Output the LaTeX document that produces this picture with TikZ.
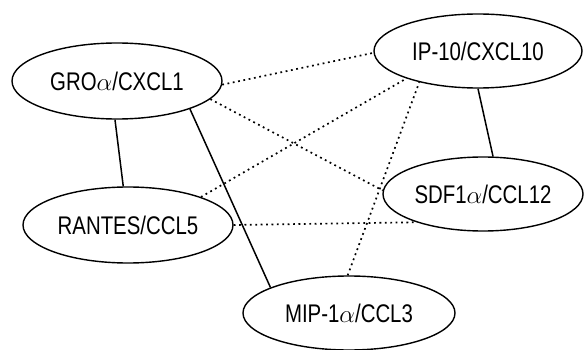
\documentclass[tikz,border=0pt]{standalone}
\usepackage{fontspec}
\setmainfont[FakeStretch=0.8]{Liberation Sans}
\usetikzlibrary{shapes.geometric}
\begin{document}
\begin{tikzpicture}[x=1pt,y=-1pt,
  ell/.style={ellipse,draw,line width=1.4pt,inner sep=0pt,minimum width=208pt,minimum height=74pt,font=\fontsize{25.5}{28}\selectfont},
  solidlink/.style={line width=1.5pt},
  dotlink/.style={line width=1.7pt,dash pattern=on 1.8pt off 3.6pt}]
\useasboundingbox (0,0) rectangle (584,350);
\node[ell,minimum width=210pt,minimum height=76pt] (gro) at (117,81) {GRO$\alpha$/CXCL1};
\node[ell] (ip) at (478,51) {IP-10/CXCL10};
\node[ell,minimum width=200pt] (sdf) at (483,194) {SDF1$\alpha$/CCL12};
\node[ell,minimum width=210pt,minimum height=76pt] (ran) at (128,225) {RANTES/CCL5};
\node[ell,minimum width=212pt] (mip) at (349,313) {MIP-1$\alpha$/CCL3};
\draw[solidlink] (gro.-93) -- (ran.97);
\draw[solidlink] (gro.-21) -- (mip.162);
\draw[solidlink] (ip.-90) -- (sdf.75);
\draw[dotlink] (gro.-2) -- (ip.181);
\draw[dotlink] (gro.-11.5) -- (sdf.178);
\draw[dotlink] (ran.21) -- (ip.201);
\draw[dotlink] (ran.0) -- (sdf.203);
\draw[dotlink] (mip.92) -- (ip.208);
\end{tikzpicture}
\end{document}
